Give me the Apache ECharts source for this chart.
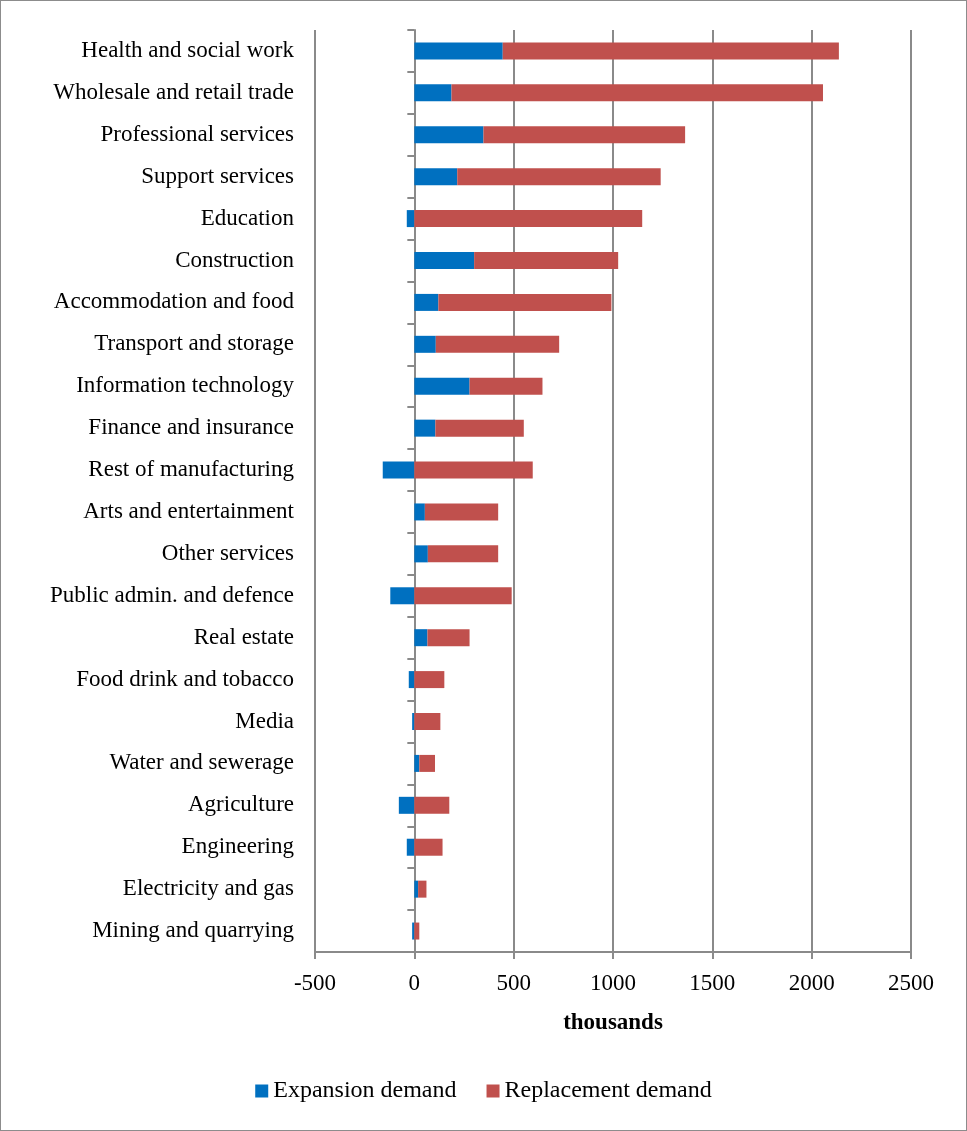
<!DOCTYPE html>
<html>
<head>
<meta charset="utf-8">
<script src="https://cdn.jsdelivr.net/npm/echarts@6/dist/echarts.min.js"></script>
<style>
  html, body { margin: 0; padding: 0; background: #fff; }
  #chart { width: 967px; height: 1131px; box-sizing: border-box; border: 1px solid #8c8c8c; }
</style>
</head>
<body>
<div id="chart"></div>
<script>
// sectors, top to bottom
const sectors = [
  'Health and social work', 'Wholesale and retail trade', 'Professional services',
  'Support services', 'Education', 'Construction', 'Accommodation and food',
  'Transport and storage', 'Information technology', 'Finance and insurance',
  'Rest of manufacturing', 'Arts and entertainment', 'Other services',
  'Public admin. and defence', 'Real estate', 'Food drink and tobacco', 'Media',
  'Water and sewerage', 'Agriculture', 'Engineering', 'Electricity and gas',
  'Mining and quarrying'
];
// thousands
const expansionDemand = [445, 187, 348, 216, -38, 301, 121, 108, 278, 106, -159, 53, 68, -121, 66, -28, -11, 25, -78, -38, 19, -11];
const replacementDemand = [1692, 1870, 1015, 1024, 1147, 725, 871, 621, 367, 445, 596, 369, 354, 490, 212, 151, 131, 79, 176, 142, 42, 25];
const xTicks = [-500, 0, 500, 1000, 1500, 2000, 2500];

const font = 'Liberation Serif';
const gray = '#8a8a8a';

const chart = echarts.init(document.getElementById('chart'));
chart.setOption({
  animation: false,
  textStyle: { fontFamily: font },
  grid: { left: 314, right: 55, top: 29, bottom: 178, containLabel: false },
  legend: {
    bottom: 22,
    left: 'center',
    icon: 'rect',
    itemWidth: 13,
    itemHeight: 13,
    itemGap: 30,
    textStyle: { fontFamily: font, fontSize: 24, color: '#000' },
    data: ['Expansion demand', 'Replacement demand']
  },
  xAxis: {
    type: 'value',
    min: xTicks[0],
    max: xTicks[xTicks.length - 1],
    interval: 500,
    name: 'thousands',
    nameLocation: 'middle',
    nameGap: 60,
    nameTextStyle: { fontFamily: font, fontSize: 23, fontWeight: 'bold', color: '#000' },
    axisLine: { show: true, onZero: false, lineStyle: { color: gray, width: 2 } },
    axisTick: { show: true, length: 7, lineStyle: { color: gray, width: 2 } },
    axisLabel: {
      margin: 20, fontFamily: font, fontSize: 23, color: '#000',
      formatter: v => String(v)
    },
    splitLine: { show: true, lineStyle: { color: gray, width: 2 } }
  },
  yAxis: [
    {
      type: 'category',
      data: sectors,
      inverse: true,
      position: 'left',
      axisLine: { show: false, onZero: false },
      axisTick: { show: false },
      axisLabel: { margin: 21, fontFamily: font, fontSize: 23, color: '#000' }
    },
    {
      type: 'category',
      data: sectors,
      inverse: true,
      position: 'left',
      axisLine: { show: true, onZero: true, lineStyle: { color: gray, width: 2 } },
      axisTick: { show: true, length: 7, lineStyle: { color: gray, width: 2 } },
      axisLabel: { show: false }
    }
  ],
  series: [
    {
      name: 'Expansion demand',
      type: 'bar',
      stack: 'total',
      barWidth: 17,
      itemStyle: { color: '#0070C0' },
      data: expansionDemand
    },
    {
      name: 'Replacement demand',
      type: 'bar',
      stack: 'total',
      barWidth: 17,
      itemStyle: { color: '#C0504D' },
      data: replacementDemand
    }
  ]
});
</script>
</body>
</html>
